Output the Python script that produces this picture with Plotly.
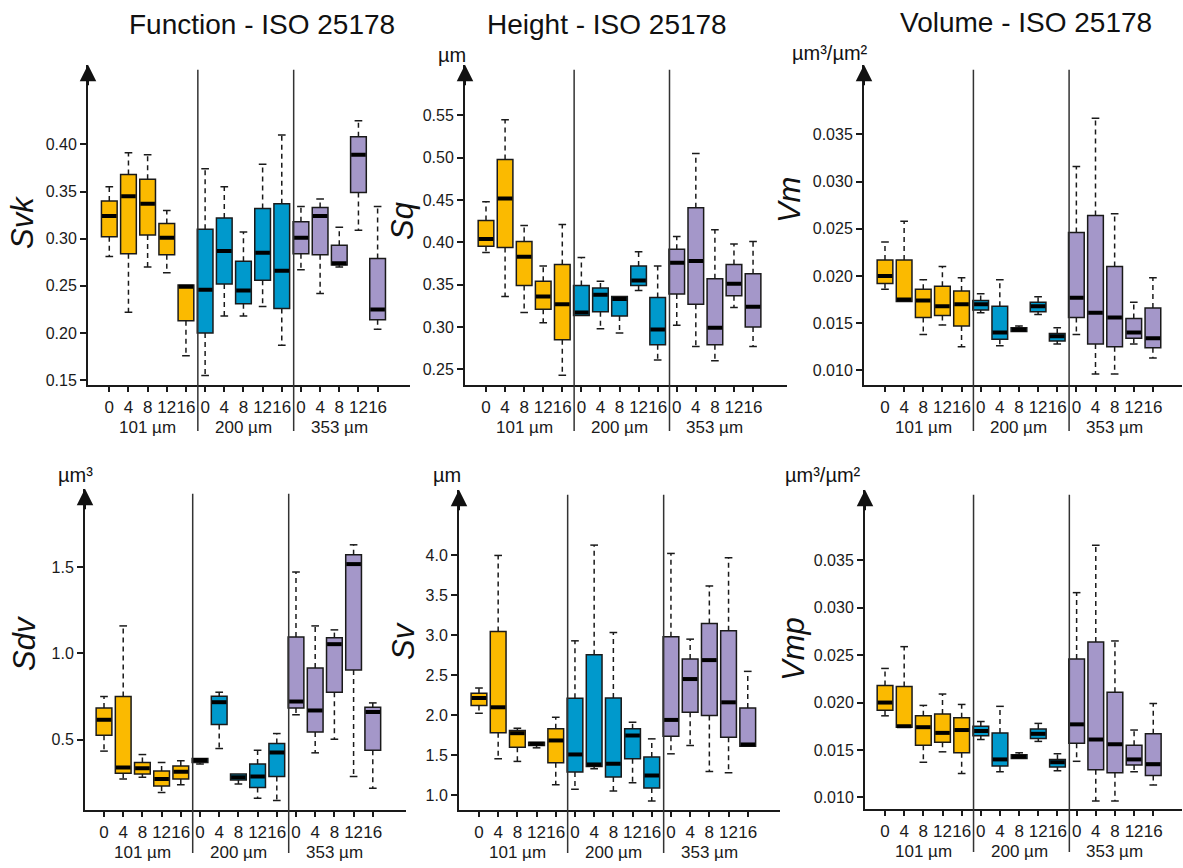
import plotly.graph_objects as go

# ---------------- data ----------------
groups = ["101 µm", "200 µm", "353 µm"]
times = ["0", "4", "8", "12", "16"]
tick_labels = times * 3
positions = list(range(1, 16))
group_colors = ["#FBBA00", "#0099CC", "#A497C9"]

titles = ["Function - ISO 25178", "Height - ISO 25178", "Volume - ISO 25178"]
y_labels = ["Svk", "Sq", "Vm", "Sdv", "Sv", "Vmp"]
units = ["", "µm", "µm³/µm²", "µm³", "µm", "µm³/µm²"]

# Svk
svk_lo = [0.281, 0.222, 0.270, 0.264, 0.176, 0.155, 0.218, 0.218, 0.228, 0.187, 0.267, 0.242, 0.270, 0.309, 0.204]
svk_q1 = [0.302, 0.284, 0.304, 0.283, 0.213, 0.200, 0.252, 0.231, 0.256, 0.226, 0.284, 0.283, 0.272, 0.349, 0.214]
svk_med = [0.324, 0.345, 0.337, 0.301, 0.249, 0.246, 0.287, 0.245, 0.285, 0.266, 0.301, 0.324, 0.274, 0.389, 0.225]
svk_q3 = [0.340, 0.368, 0.363, 0.316, 0.251, 0.310, 0.322, 0.276, 0.332, 0.337, 0.318, 0.333, 0.293, 0.408, 0.279]
svk_hi = [0.355, 0.391, 0.389, 0.330, 0.251, 0.374, 0.355, 0.307, 0.379, 0.410, 0.334, 0.342, 0.312, 0.425, 0.334]

# Sq
sq_lo = [0.388, 0.336, 0.317, 0.305, 0.243, 0.3135, 0.298, 0.293, 0.343, 0.261, 0.302, 0.277, 0.260, 0.323, 0.277]
sq_q1 = [0.3955, 0.394, 0.349, 0.321, 0.285, 0.3135, 0.318, 0.313, 0.349, 0.279, 0.339, 0.327, 0.279, 0.337, 0.300]
sq_med = [0.404, 0.452, 0.383, 0.336, 0.327, 0.317, 0.338, 0.333, 0.355, 0.297, 0.376, 0.378, 0.299, 0.351, 0.324]
sq_q3 = [0.426, 0.498, 0.401, 0.354, 0.374, 0.349, 0.346, 0.336, 0.372, 0.335, 0.392, 0.441, 0.357, 0.374, 0.363]
sq_hi = [0.448, 0.545, 0.420, 0.372, 0.421, 0.382, 0.354, 0.336, 0.389, 0.372, 0.407, 0.505, 0.415, 0.398, 0.401]

# Vm
vm_lo = [0.0186, 0.0173, 0.0138, 0.0148, 0.0125, 0.0161, 0.0126, 0.0141, 0.0159, 0.0128, 0.0138, 0.0096, 0.0096, 0.0128, 0.0113]
vm_q1 = [0.0192, 0.0173, 0.0156, 0.0158, 0.0147, 0.0164, 0.0133, 0.0141, 0.0162, 0.0131, 0.0156, 0.0128, 0.0125, 0.0134, 0.0124]
vm_med = [0.0200, 0.0175, 0.0174, 0.0168, 0.0170, 0.0170, 0.0140, 0.0143, 0.0168, 0.0136, 0.0177, 0.0161, 0.0156, 0.0140, 0.0134]
vm_q3 = [0.0217, 0.0217, 0.0186, 0.0189, 0.0184, 0.0174, 0.0168, 0.0145, 0.0172, 0.0139, 0.0246, 0.0264, 0.0210, 0.0155, 0.0166]
vm_hi = [0.0236, 0.0258, 0.0196, 0.0210, 0.0198, 0.0181, 0.0196, 0.0147, 0.0178, 0.0145, 0.0316, 0.0367, 0.0266, 0.0172, 0.0198]

# Sdv
sdv_lo = [0.433, 0.271, 0.281, 0.192, 0.237, 0.358, 0.448, 0.242, 0.160, 0.146, 0.644, 0.423, 0.502, 0.285, 0.217]
sdv_q1 = [0.525, 0.304, 0.300, 0.231, 0.271, 0.367, 0.588, 0.265, 0.221, 0.285, 0.683, 0.544, 0.775, 0.904, 0.438]
sdv_med = [0.615, 0.338, 0.333, 0.271, 0.313, 0.381, 0.717, 0.281, 0.285, 0.425, 0.721, 0.669, 1.054, 1.519, 0.660]
sdv_q3 = [0.683, 0.750, 0.367, 0.317, 0.346, 0.390, 0.752, 0.300, 0.358, 0.477, 1.096, 0.915, 1.092, 1.573, 0.688]
sdv_hi = [0.750, 1.160, 0.413, 0.367, 0.377, 0.390, 0.775, 0.300, 0.438, 0.535, 1.473, 1.160, 1.137, 1.631, 0.713]

# Sv
sv_lo = [2.026, 1.457, 1.424, 1.594, 1.133, 1.075, 1.332, 1.054, 1.158, 0.929, 1.519, 1.623, 1.299, 1.283, 1.615]
sv_q1 = [2.122, 1.781, 1.602, 1.623, 1.407, 1.291, 1.361, 1.229, 1.457, 1.091, 1.740, 2.039, 1.997, 1.727, 1.615]
sv_med = [2.217, 2.101, 1.777, 1.644, 1.686, 1.511, 1.386, 1.395, 1.748, 1.249, 1.943, 2.454, 2.691, 2.163, 1.636]
sv_q3 = [2.276, 3.048, 1.810, 1.665, 1.831, 2.213, 2.758, 2.217, 1.831, 1.478, 2.982, 2.704, 3.148, 3.057, 2.093]
sv_hi = [2.342, 4.000, 1.839, 1.665, 1.976, 2.932, 4.129, 3.036, 1.914, 1.706, 4.025, 2.953, 3.618, 3.971, 2.550]

# Vmp
vmp_lo = [0.0186, 0.0174, 0.0137, 0.0148, 0.0125, 0.0161, 0.0127, 0.0141, 0.0159, 0.0128, 0.0138, 0.0096, 0.0096, 0.0127, 0.0113]
vmp_q1 = [0.0192, 0.0174, 0.0155, 0.0158, 0.0147, 0.0165, 0.0133, 0.0141, 0.0162, 0.0132, 0.0157, 0.0129, 0.0126, 0.0134, 0.0123]
vmp_med = [0.0200, 0.0175, 0.0174, 0.0168, 0.0171, 0.0170, 0.0140, 0.0143, 0.0167, 0.0137, 0.0177, 0.0161, 0.0156, 0.0140, 0.0135]
vmp_q3 = [0.0218, 0.0217, 0.0186, 0.0188, 0.0184, 0.0175, 0.0168, 0.0145, 0.0172, 0.0140, 0.0246, 0.0264, 0.0211, 0.0155, 0.0167]
vmp_hi = [0.0236, 0.0259, 0.0197, 0.0209, 0.0198, 0.0180, 0.0196, 0.0147, 0.0178, 0.0146, 0.0316, 0.0366, 0.0265, 0.0171, 0.0199]

svk_ticks = [0.15, 0.20, 0.25, 0.30, 0.35, 0.40]
sq_ticks = [0.25, 0.30, 0.35, 0.40, 0.45, 0.50, 0.55]
vm_ticks = [0.010, 0.015, 0.020, 0.025, 0.030, 0.035]
sdv_ticks = [0.5, 1.0, 1.5]
sv_ticks = [1.0, 1.5, 2.0, 2.5, 3.0, 3.5, 4.0]
vmp_ticks = [0.010, 0.015, 0.020, 0.025, 0.030, 0.035]

panels = [
    (svk_lo, svk_q1, svk_med, svk_q3, svk_hi, svk_ticks, "{:.2f}"),
    (sq_lo, sq_q1, sq_med, sq_q3, sq_hi, sq_ticks, "{:.2f}"),
    (vm_lo, vm_q1, vm_med, vm_q3, vm_hi, vm_ticks, "{:.3f}"),
    (sdv_lo, sdv_q1, sdv_med, sdv_q3, sdv_hi, sdv_ticks, "{:.1f}"),
    (sv_lo, sv_q1, sv_med, sv_q3, sv_hi, sv_ticks, "{:.1f}"),
    (vmp_lo, vmp_q1, vmp_med, vmp_q3, vmp_hi, vmp_ticks, "{:.3f}"),
]

# ---------------- layout geometry (pixels) ----------------
W, H = 1183, 868
# x0, x1, ytop, ybot, xrange, yrange
geom = [
    (88, 410, 65, 387, [-0.111, 16.69], [0.1447, 0.4844]),
    (465, 787, 65, 387, [-0.101, 16.78], [0.2312, 0.610]),
    (864, 1182, 65, 387, [-0.097, 16.52], [0.00842, 0.04238]),
    (85, 406, 491, 814, [0.01, 16.73], [0.0896, 1.9566]),
    (459, 780, 492, 814, [-0.04, 16.68], [0.8133, 4.8216]),
    (865, 1182, 492, 813, [-0.045, 16.5], [0.00874, 0.04246]),
]
ylabel_pos = [(23, 224), (403, 222), (789, 201), (24, 647), (403, 644), (794, 652)]
unit_pos = [(0, 0), (452, 55), (830, 53), (75, 477), (447, 477), (823, 477)]
title_pos = [(262, 25), (607, 25), (1026, 23)]
sep_pos = [5.62, 10.62]

ink = "#1a1a1a"
FONT = "Liberation Sans, Arial, sans-serif"

fig = go.Figure()
annotations = []
shapes = []
layout = dict(
    width=W, height=H, margin=dict(l=0, r=0, t=0, b=0),
    paper_bgcolor="white", plot_bgcolor="white",
    showlegend=False, barmode="overlay",
    font=dict(family=FONT, color=ink),
)

colors = []
for c in group_colors:
    colors += [c] * 5

hw = 0.41   # half box width
cw = 0.2    # half cap width

for k, (lo, q1, md, q3, hi, yt, fmt) in enumerate(panels):
    sfx = "" if k == 0 else str(k + 1)
    xa, ya = "x" + sfx, "y" + sfx
    x0, x1, ytop, ybot, xr, yr = geom[k]

    # whiskers (dashed) and caps
    wx, wy = [], []
    cx, cy = [], []
    for p, a, b, c, d in zip(positions, lo, q1, q3, hi):
        if d > c:
            wx += [p, p, None]; wy += [c, d, None]
            cx += [p - cw, p + cw, None]; cy += [d, d, None]
        if a < b:
            wx += [p, p, None]; wy += [b, a, None]
            cx += [p - cw, p + cw, None]; cy += [a, a, None]
    fig.add_trace(go.Scatter(x=wx, y=wy, mode="lines", xaxis=xa, yaxis=ya,
                             line=dict(color=ink, width=1.5, dash="5px,4px"),
                             hoverinfo="skip"))
    fig.add_trace(go.Scatter(x=cx, y=cy, mode="lines", xaxis=xa, yaxis=ya,
                             line=dict(color=ink, width=1.5), hoverinfo="skip"))
    # boxes
    fig.add_trace(go.Bar(x=positions, y=[b - a for a, b in zip(q1, q3)], base=q1,
                         width=2 * hw, xaxis=xa, yaxis=ya,
                         marker=dict(color=colors, line=dict(color=ink, width=1.5))))
    # medians
    mx, my = [], []
    for p, m in zip(positions, md):
        mx += [p - hw + 0.03, p + hw - 0.03, None]; my += [m, m, None]
    fig.add_trace(go.Scatter(x=mx, y=my, mode="lines", xaxis=xa, yaxis=ya,
                             line=dict(color="#000000", width=4), hoverinfo="skip"))

    layout["xaxis" + sfx] = dict(
        domain=[x0 / W, x1 / W], range=xr, anchor=ya,
        tickmode="array", tickvals=positions, ticktext=tick_labels, tickangle=0,
        ticks="outside", ticklen=5, tickwidth=1.5, tickcolor=ink,
        showline=True, linecolor=ink, linewidth=2,
        showgrid=False, zeroline=False,
        tickfont=dict(size=17, color=ink, family=FONT),
    )
    layout["yaxis" + sfx] = dict(
        domain=[1 - ybot / H, 1 - ytop / H], range=yr, anchor=xa,
        tickmode="array", tickvals=yt, ticktext=[fmt.format(v) for v in yt],
        ticks="outside", ticklen=6, tickwidth=1.5, tickcolor=ink,
        showline=True, linecolor=ink, linewidth=2,
        showgrid=False, zeroline=False,
        tickfont=dict(size=16, color=ink, family=FONT),
    )

    # arrow on y-axis
    annotations.append(dict(xref=xa + " domain", yref=ya + " domain", x=0, y=1,
                            ax=0, ay=22, axref="pixel", ayref="pixel", text="",
                            showarrow=True, arrowhead=2, arrowsize=1.65,
                            arrowwidth=2, arrowcolor="#111111", standoff=0))
    # group labels
    for g, gname in enumerate(groups):
        annotations.append(dict(xref=xa, yref=ya + " domain", x=3 + 5 * g, y=0,
                                yshift=-42, text=gname, showarrow=False,
                                font=dict(size=17, color=ink, family=FONT),
                                xanchor="center", yanchor="middle"))
    # separators
    sep_top = (ybot - (ytop + 5)) / (ybot - ytop)
    sep_bot = -(46 if k < 3 else 43) / (ybot - ytop)
    for s in sep_pos:
        shapes.append(dict(type="line", xref=xa, yref=ya + " domain",
                           x0=s, x1=s, y0=sep_bot, y1=sep_top,
                           line=dict(color="#333333", width=1.5)))
    # y label
    lx, ly = ylabel_pos[k]
    annotations.append(dict(xref="paper", yref="paper", x=lx / W, y=1 - ly / H,
                            text="<i>" + y_labels[k] + "</i>", textangle=-90,
                            showarrow=False, xanchor="center", yanchor="middle",
                            font=dict(size=31, color="#111111", family=FONT)))
    # unit
    if units[k]:
        ux, uy = unit_pos[k]
        annotations.append(dict(xref="paper", yref="paper", x=ux / W, y=1 - uy / H,
                                text=units[k], showarrow=False,
                                xanchor="center", yanchor="middle",
                                font=dict(size=20, color="#111111", family=FONT)))

for t, (tx, ty) in zip(titles, title_pos):
    annotations.append(dict(xref="paper", yref="paper", x=tx / W, y=1 - ty / H,
                            text=t, showarrow=False, xanchor="center", yanchor="middle",
                            font=dict(size=28, color="#111111", family=FONT)))

layout["annotations"] = annotations
layout["shapes"] = shapes
fig.update_layout(**layout)
fig.write_html("out.html",
               config={"displayModeBar": False},
               post_script="document.body.style.margin='0px';"
                           "document.body.style.overflow='hidden';")
